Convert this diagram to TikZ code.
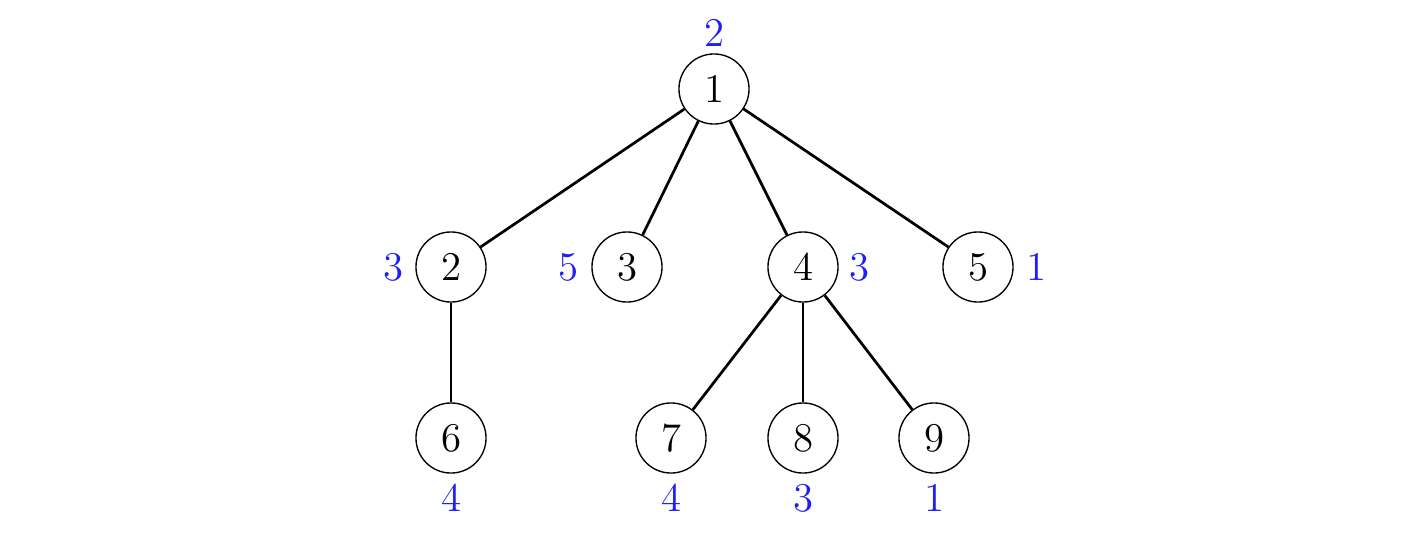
\documentclass[tikz,border=0pt]{standalone}
\definecolor{lblblue}{RGB}{30,30,245}
\begin{document}
\begin{tikzpicture}[x=0.294pt,y=-0.294pt,
  vert/.style={circle,draw,line width=0.4pt,minimum size=20.6pt,inner sep=0pt,font=\large},
  lbl/.style={text=lblblue,font=\large,inner sep=0pt},
  edge/.style={line width=0.8pt}]
\useasboundingbox (0,0) rectangle (1420,540);
\node[vert] (n1) at (714,89) {$1$};
\node[vert] (n2) at (451,267) {$2$};
\node[vert] (n3) at (627,267) {$3$};
\node[vert] (n4) at (803,267) {$4$};
\node[vert] (n5) at (978,267) {$5$};
\node[vert] (n6) at (451,438) {$6$};
\node[vert] (n7) at (671,438) {$7$};
\node[vert] (n8) at (803,438) {$8$};
\node[vert] (n9) at (934,438) {$9$};
\draw[edge] (n1) -- (n2);
\draw[edge] (n1) -- (n3);
\draw[edge] (n1) -- (n4);
\draw[edge] (n1) -- (n5);
\draw[edge] (n2) -- (n6);
\draw[edge] (n4) -- (n7);
\draw[edge] (n4) -- (n8);
\draw[edge] (n4) -- (n9);
\node[lbl] (l1) at (714,33) {$2$};
\node[lbl] (l2) at (393,267) {$3$};
\node[lbl] (l3) at (568,267) {$5$};
\node[lbl] (l4) at (859,267) {$3$};
\node[lbl] (l5) at (1036,267) {$1$};
\node[lbl] (l6) at (451,498) {$4$};
\node[lbl] (l7) at (671,498) {$4$};
\node[lbl] (l8) at (803,498) {$3$};
\node[lbl] (l9) at (934,498) {$1$};
\end{tikzpicture}
\end{document}
